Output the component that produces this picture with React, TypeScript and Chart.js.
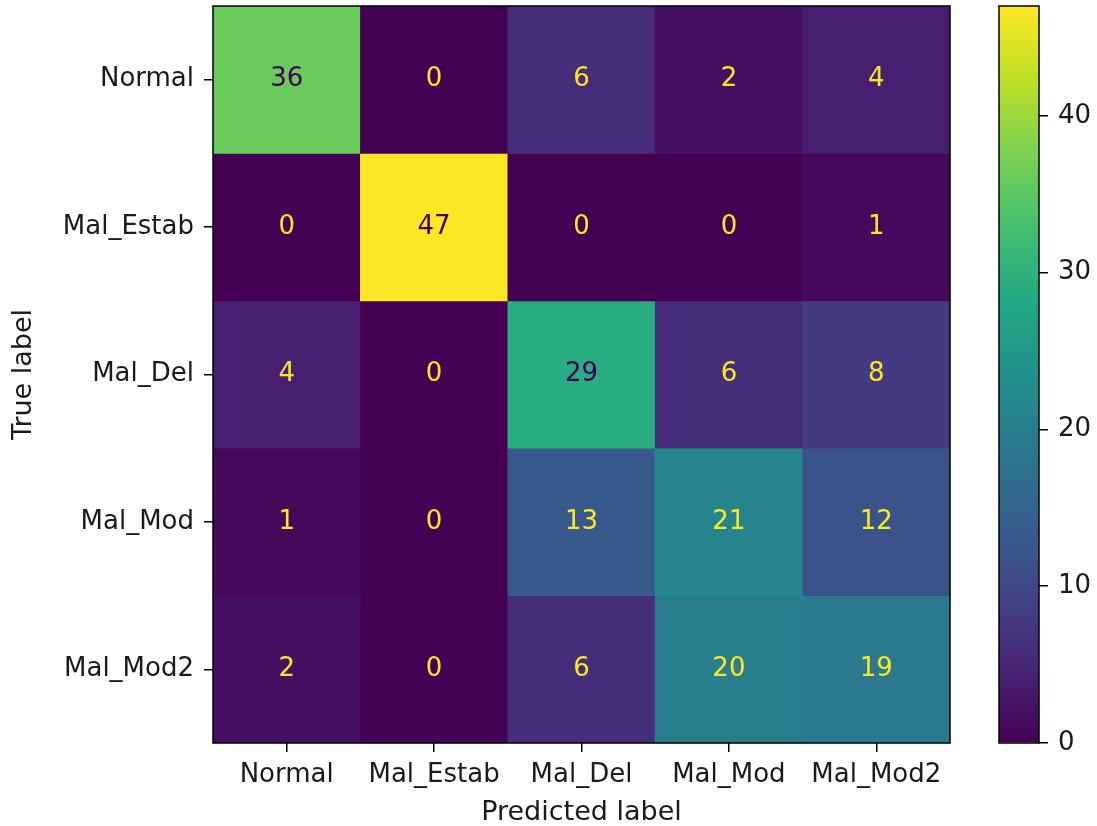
import React, { useEffect, useRef } from "react";
import Chart from "chart.js/auto";

const rowLabels = ["Normal", "Mal_Estab", "Mal_Del", "Mal_Mod", "Mal_Mod2"];
const colLabels = ["Normal", "Mal_Estab", "Mal_Del", "Mal_Mod", "Mal_Mod2"];
const rowNormal = [36, 0, 6, 2, 4];
const rowMalEstab = [0, 47, 0, 0, 1];
const rowMalDel = [4, 0, 29, 6, 8];
const rowMalMod = [1, 0, 13, 21, 12];
const rowMalMod2 = [2, 0, 6, 20, 19];
const matrix = [rowNormal, rowMalEstab, rowMalDel, rowMalMod, rowMalMod2];
const colorbarTicks = [0, 10, 20, 30, 40];
const vmin = 0;
const vmax = 47;

const VIRIDIS = [
  "#440154", "#482475", "#414487", "#355f8d", "#2a788e", "#21918c",
  "#22a884", "#44bf70", "#7ad151", "#bddf26", "#fde725",
];

function hexToRgb(h: string) {
  return [parseInt(h.slice(1, 3), 16), parseInt(h.slice(3, 5), 16), parseInt(h.slice(5, 7), 16)];
}

function viridis(t: number) {
  const tt = Math.max(0, Math.min(1, t));
  const pos = tt * (VIRIDIS.length - 1);
  const i = Math.min(Math.floor(pos), VIRIDIS.length - 2);
  const f = pos - i;
  const a = hexToRgb(VIRIDIS[i]);
  const b = hexToRgb(VIRIDIS[i + 1]);
  const c = a.map((v, k) => Math.round(v + (b[k] - v) * f));
  return `rgb(${c[0]},${c[1]},${c[2]})`;
}

const FONT = "'DejaVu Sans', 'Liberation Sans', sans-serif";
const TEXT = "#1a1a1a";

const frame = {
  id: "frame",
  afterDatasetsDraw(chart: any) {
    const { ctx, chartArea } = chart;
    ctx.save();
    ctx.strokeStyle = "#000";
    ctx.lineWidth = 1.5;
    ctx.strokeRect(chartArea.left, chartArea.top, chartArea.right - chartArea.left, chartArea.bottom - chartArea.top);
    ctx.restore();
  },
};

const cellText = {
  id: "cellText",
  afterDatasetsDraw(chart: any) {
    const { ctx } = chart;
    const thresh = (vmax + vmin) / 2;
    ctx.save();
    ctx.font = `26px ${FONT}`;
    ctx.textAlign = "center";
    ctx.textBaseline = "middle";
    matrix.forEach((row, r) => {
      const meta = chart.getDatasetMeta(r);
      row.forEach((v, c) => {
        const el: any = meta.data[c];
        const cx = el.x;
        const cy = (el.y + el.base) / 2;
        ctx.fillStyle = v >= thresh ? VIRIDIS[0] : VIRIDIS[VIRIDIS.length - 1];
        ctx.fillText(String(v), cx, cy);
      });
    });
    ctx.restore();
  },
};

function noPad(s: any) {
  s.paddingTop = 0;
  s.paddingBottom = 0;
  s.paddingLeft = 0;
  s.paddingRight = 0;
}

export default function App() {
  const mainRef = useRef<HTMLCanvasElement>(null);
  const barRef = useRef<HTMLCanvasElement>(null);

  useEffect(() => {
    const main = new Chart(mainRef.current!, {
      type: "bar",
      data: {
        labels: colLabels,
        datasets: matrix.map((row, r) => ({
          label: rowLabels[r],
          data: row.map(() => [r - 0.5, r + 0.5]),
          backgroundColor: row.map((v) => viridis((v - vmin) / (vmax - vmin))),
          borderWidth: 0,
          grouped: false,
          barPercentage: 1,
          categoryPercentage: 1,
        })) as any,
      },
      options: {
        responsive: false,
        animation: false,
        layout: { padding: { top: 6, right: 30, bottom: 0, left: 0 } },
        plugins: { legend: { display: false }, tooltip: { enabled: false } },
        scales: {
          x: {
            type: "category",
            offset: true,
            grid: { offset: false, drawOnChartArea: false, drawTicks: true, tickLength: 9, color: "#000", lineWidth: 1.5 },
            border: { display: false },
            ticks: { color: TEXT, font: { family: FONT, size: 26, lineHeight: 1 }, padding: 10, maxRotation: 0, autoSkip: false },
            title: { display: true, text: "Predicted label", color: TEXT, font: { family: FONT, size: 27, lineHeight: 1 }, padding: { top: 0, bottom: 0 } },
            afterFit: (s: any) => { s.height = 83; noPad(s); },
          },
          y: {
            type: "linear",
            min: -0.5,
            max: 4.5,
            reverse: true,
            afterBuildTicks: (s: any) => { s.ticks = [0, 1, 2, 3, 4].map((v) => ({ value: v })); },
            grid: { drawOnChartArea: false, drawTicks: true, tickLength: 9, color: "#000", lineWidth: 1.5 },
            border: { display: false },
            ticks: { color: TEXT, font: { family: FONT, size: 26, lineHeight: 1 }, padding: 10, callback: (v: any) => rowLabels[Number(v)] ?? "" },
            title: { display: true, text: "True label", color: TEXT, font: { family: FONT, size: 27, lineHeight: 1 }, padding: { top: 10, bottom: 0 } },
            afterFit: (s: any) => { s.width = 213; noPad(s); },
          },
        },
      },
      plugins: [cellText, frame],
    } as any);

    const bar = new Chart(barRef.current!, {
      type: "bar",
      data: {
        labels: [""],
        datasets: [
          {
            data: [[vmin, vmax]],
            borderWidth: 0,
            barPercentage: 1,
            categoryPercentage: 1,
            backgroundColor: (ctx: any) => {
              const area = ctx.chart.chartArea;
              if (!area) return VIRIDIS[0];
              const g = ctx.chart.ctx.createLinearGradient(0, area.bottom, 0, area.top);
              VIRIDIS.forEach((c, i) => g.addColorStop(i / (VIRIDIS.length - 1), c));
              return g;
            },
          },
        ] as any,
      },
      options: {
        responsive: false,
        animation: false,
        layout: { padding: { top: 6, right: 0, bottom: 83, left: 19 } },
        plugins: { legend: { display: false }, tooltip: { enabled: false } },
        scales: {
          x: { type: "category", display: false, offset: true },
          y: {
            type: "linear",
            position: "right",
            min: vmin,
            max: vmax,
            afterBuildTicks: (s: any) => { s.ticks = colorbarTicks.map((v) => ({ value: v })); },
            grid: { drawOnChartArea: false, drawTicks: true, tickLength: 9, color: "#000", lineWidth: 1.5 },
            border: { display: false },
            ticks: { color: TEXT, font: { family: FONT, size: 26, lineHeight: 1 }, padding: 10 },
            afterFit: (s: any) => { s.width = 58; noPad(s); },
          },
        },
      },
      plugins: [frame],
    } as any);

    return () => {
      main.destroy();
      bar.destroy();
    };
  }, []);

  return (
    <div>
      <canvas
        ref={mainRef}
        width={980}
        height={826}
        style={{ position: "absolute", left: 0, top: 0, width: 980, height: 826 }}
      />
      <canvas
        ref={barRef}
        width={117}
        height={826}
        style={{ position: "absolute", left: 980, top: 0, width: 117, height: 826 }}
      />
    </div>
  );
}
